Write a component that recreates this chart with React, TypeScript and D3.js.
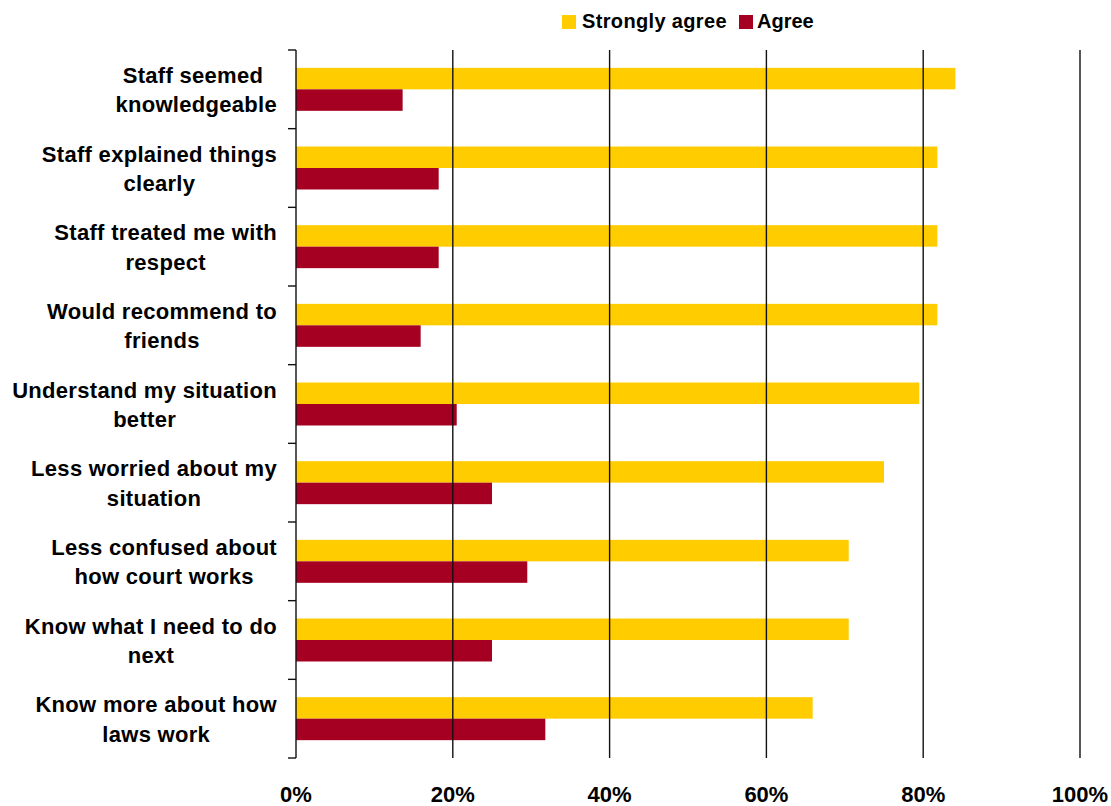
import React from "react";
import * as d3 from "d3";

const categories: string[][] = [
  ["Staff seemed ", "knowledgeable"],
  ["Staff explained things", "clearly"],
  ["Staff treated me with", "respect"],
  ["Would recommend to", "friends"],
  ["Understand my situation", "better"],
  ["Less worried about my", "situation"],
  ["Less confused about", "how court works"],
  ["Know what I need to do", "next"],
  ["Know more about how", "laws work"],
];
const stronglyAgree = [84.1, 81.8, 81.8, 81.8, 79.5, 75.0, 70.5, 70.5, 65.9];
const agree = [13.6, 18.2, 18.2, 15.9, 20.5, 25.0, 29.5, 25.0, 31.8];
const seriesNames = ["Strongly agree", "Agree"];
const seriesColors = ["#FFCC00", "#A50021"];
const xTicks = [0, 20, 40, 60, 80, 100];

const W = 1111;
const H = 806;
const FONT = "'Liberation Sans', Arial, sans-serif";
const LABEL_SIZE = 22;
const LABEL_LS = 0.3;

let ctx: CanvasRenderingContext2D | null = null;
function measure(text: string, size: number, ls: number): number {
  if (!ctx) ctx = document.createElement("canvas").getContext("2d");
  if (!ctx) return text.length * size * 0.55;
  ctx.font = `bold ${size}px ${FONT}`;
  return ctx.measureText(text).width + ls * text.length;
}

export default function App() {
  const left = 296;
  const right = 1080;
  const top = 50;
  const bottom = 758;
  const x = d3.scaleLinear().domain([0, 100]).range([left, right]);
  const keys = categories.map((c) => c.join(" "));
  const y = d3.scaleBand<string>().domain(keys).range([top, bottom]).padding(0);
  const bw = y.bandwidth();
  const y1 = d3
    .scaleBand<string>()
    .domain(seriesNames)
    .range([0, bw])
    .paddingInner(0)
    .paddingOuter(0.83);
  const values = [stronglyAgree, agree];
  const boundaries = keys.map((k) => y(k) as number).concat([bottom]);
  const labelRight = 277;

  return (
    <svg
      width={W}
      height={H}
      style={{ position: "absolute", left: 0, top: 0, background: "#fff" }}
      fontFamily={FONT}
    >
      {/* legend */}
      <g fontWeight="bold" fontSize={20}>
        <rect x={562} y={15} width={14} height={14} fill={seriesColors[0]} />
        <text x={582} y={28} fill="#000" letterSpacing={0.35}>
          {seriesNames[0]}
        </text>
        <rect x={739} y={15} width={14} height={14} fill={seriesColors[1]} />
        <text x={757} y={28} fill="#000">
          {seriesNames[1]}
        </text>
      </g>

      {/* bars */}
      {keys.map((k, i) => (
        <g key={k} transform={`translate(0,${y(k)})`}>
          {seriesNames.map((s, j) => (
            <rect
              key={s}
              x={x(0)}
              y={y1(s)}
              width={x(values[j][i]) - x(0)}
              height={y1.bandwidth()}
              fill={seriesColors[j]}
            />
          ))}
        </g>
      ))}

      {/* gridlines */}
      {xTicks.slice(1).map((t) => (
        <line
          key={t}
          x1={x(t)}
          x2={x(t)}
          y1={top}
          y2={bottom}
          stroke="#111"
          strokeWidth={1.4}
        />
      ))}

      {/* y axis */}
      <line x1={left} x2={left} y1={top} y2={bottom} stroke="#111" strokeWidth={1.4} />
      {boundaries.map((b, i) => (
        <line key={i} x1={left - 8} x2={left} y1={b} y2={b} stroke="#111" strokeWidth={1.4} />
      ))}

      {/* category labels */}
      <g fontWeight="bold" fontSize={LABEL_SIZE} fill="#000" letterSpacing={LABEL_LS}>
        {categories.map((lines, i) => {
          const widths = lines.map((l) => measure(l, LABEL_SIZE, LABEL_LS));
          const trimmed = lines.map((l) => measure(l.trim(), LABEL_SIZE, LABEL_LS));
          const maxW = Math.max(...trimmed);
          const cx = labelRight - maxW / 2;
          const c = (y(keys[i]) as number) + bw / 2;
          return (
            <g key={i}>
              {lines.map((l, j) => (
                <text
                  key={j}
                  x={cx - widths[j] / 2}
                  y={c - 6.5 + j * 29.5}
                  textAnchor="start"
                >
                  {l.trim()}
                </text>
              ))}
            </g>
          );
        })}
      </g>

      {/* x tick labels */}
      <g fontWeight="bold" fontSize={22} fill="#000">
        {xTicks.map((t) => (
          <text key={t} x={x(t)} y={802} textAnchor="middle">
            {`${t}%`}
          </text>
        ))}
      </g>
    </svg>
  );
}
